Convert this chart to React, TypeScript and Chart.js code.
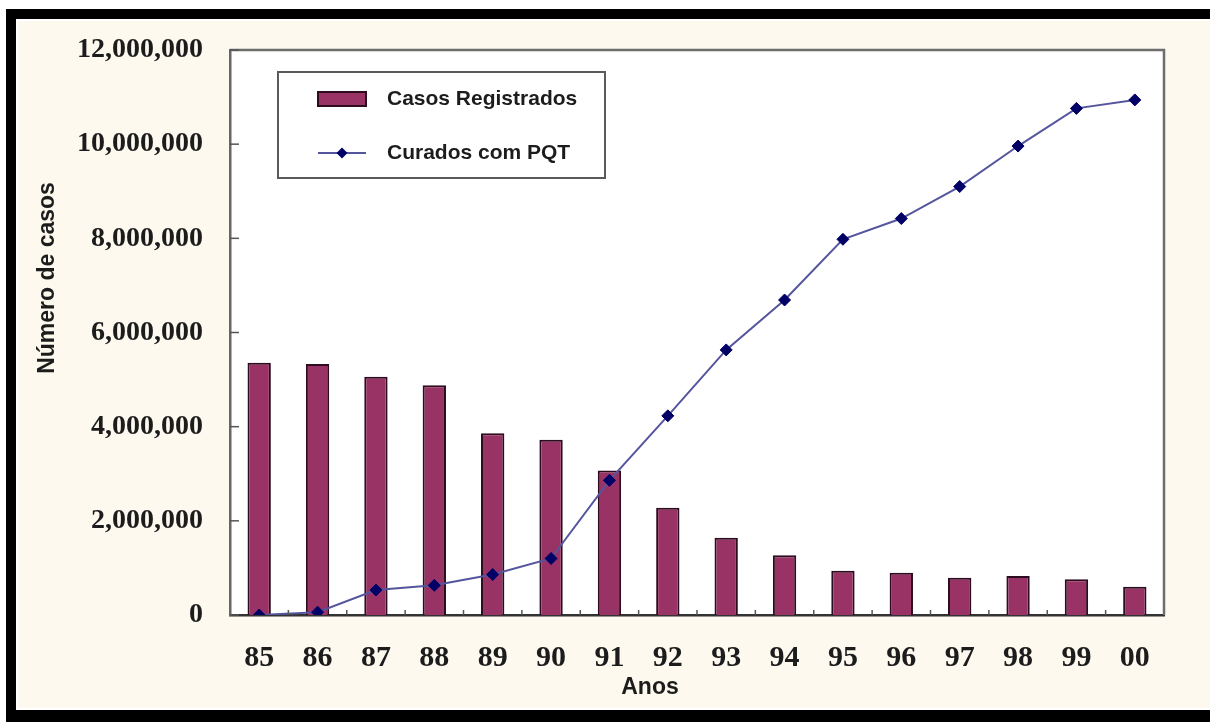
import React, { useEffect, useRef } from "react";
import { Chart, registerables } from "chart.js";

Chart.register(...registerables);

// ---- data ----
const years = ["85", "86", "87", "88", "89", "90", "91", "92", "93", "94", "95", "96", "97", "98", "99", "00"];
const casosRegistrados = [5360000, 5330000, 5060000, 4880000, 3860000, 3720000, 3070000, 2280000, 1640000, 1270000, 940000, 900000, 790000, 830000, 760000, 600000];
const curadosPQT = [0, 60000, 530000, 630000, 860000, 1200000, 2860000, 4230000, 5630000, 6690000, 7980000, 8420000, 9100000, 9960000, 10760000, 10940000];
const yTicks = [0, 2000000, 4000000, 6000000, 8000000, 10000000, 12000000];
const seriesLabels = ["Casos Registrados", "Curados com PQT"];
const xAxisTitle = "Anos";
const yAxisTitle = "Número de casos";

// ---- styles ----
const CREAM = "#fdf9ef";
const BAR_FILL = "#993366";
const BAR_EDGE = "#2e0c20";
const LINE_COLOR = "#55559e";
const MARKER_COLOR = "#000066";
const TEXT = "#1c1c1c";
const W = 1192;
const H = 687;

const decorPlugin = {
  id: "decor",
  beforeDraw(chart: any) {
    const { ctx, chartArea: a } = chart;
    ctx.save();
    ctx.fillStyle = CREAM;
    ctx.fillRect(0, 0, chart.width, chart.height);
    ctx.fillStyle = "#ffffff";
    ctx.fillRect(a.left, a.top, a.right - a.left, a.bottom - a.top);
    ctx.restore();
  },
  afterDraw(chart: any) {
    const { ctx, chartArea: a } = chart;
    const xs = chart.scales.x;
    const ys = chart.scales.y;
    ctx.save();
    // top & right frame of plot
    ctx.strokeStyle = "#6e6e6e";
    ctx.lineWidth = 2.5;
    ctx.beginPath();
    ctx.moveTo(a.left, a.top);
    ctx.lineTo(a.right, a.top);
    ctx.lineTo(a.right, a.bottom);
    ctx.stroke();
    // inward y ticks
    ctx.strokeStyle = "#555555";
    ctx.lineWidth = 1.5;
    yTicks.forEach((v) => {
      const y = ys.getPixelForValue(v);
      ctx.beginPath();
      ctx.moveTo(a.left, y);
      ctx.lineTo(a.left + 9, y);
      ctx.stroke();
    });
    // inward x ticks at category boundaries
    for (let k = 1; k < years.length; k++) {
      const x = xs.getPixelForValue(k - 0.5);
      ctx.beginPath();
      ctx.moveTo(x, a.bottom);
      ctx.lineTo(x, a.bottom - 5);
      ctx.stroke();
    }
    // axis titles
    ctx.fillStyle = TEXT;
    ctx.font = "bold 23px 'Liberation Sans', Arial, sans-serif";
    ctx.textAlign = "center";
    ctx.textBaseline = "middle";
    ctx.fillText(xAxisTitle, 632, 667);
    ctx.save();
    ctx.translate(30, 257);
    ctx.rotate(-Math.PI / 2);
    ctx.fillText(yAxisTitle, 0, 0);
    ctx.restore();
    // legend
    const lx = a.left + 48;
    const ly = a.top + 22;
    const lw = 327;
    const lh = 106;
    ctx.fillStyle = "#ffffff";
    ctx.fillRect(lx, ly, lw, lh);
    ctx.strokeStyle = "#5a5a5a";
    ctx.lineWidth = 2;
    ctx.strokeRect(lx, ly, lw, lh);
    // bar swatch
    ctx.fillStyle = BAR_FILL;
    ctx.fillRect(lx + 40, ly + 20, 48, 14);
    ctx.strokeStyle = BAR_EDGE;
    ctx.lineWidth = 2;
    ctx.strokeRect(lx + 40, ly + 20, 48, 14);
    // line swatch
    const ry = ly + 81;
    ctx.strokeStyle = LINE_COLOR;
    ctx.lineWidth = 2;
    ctx.beginPath();
    ctx.moveTo(lx + 40, ry);
    ctx.lineTo(lx + 88, ry);
    ctx.stroke();
    ctx.fillStyle = MARKER_COLOR;
    ctx.beginPath();
    ctx.moveTo(lx + 64, ry - 5.5);
    ctx.lineTo(lx + 69.5, ry);
    ctx.lineTo(lx + 64, ry + 5.5);
    ctx.lineTo(lx + 58.5, ry);
    ctx.closePath();
    ctx.fill();
    ctx.fillStyle = TEXT;
    ctx.font = "bold 21px 'Liberation Sans', Arial, sans-serif";
    ctx.textAlign = "left";
    ctx.textBaseline = "middle";
    ctx.fillText(seriesLabels[0], lx + 109, ly + 27);
    ctx.fillText(seriesLabels[1], lx + 109, ry);
    ctx.restore();
  },
};

export default function App() {
  const ref = useRef<HTMLCanvasElement | null>(null);

  useEffect(() => {
    if (!ref.current) return;
    const chart = new Chart(ref.current, {
      type: "bar",
      data: {
        labels: years,
        datasets: [
          {
            type: "line",
            label: seriesLabels[1],
            data: curadosPQT,
            borderColor: LINE_COLOR,
            borderWidth: 2,
            backgroundColor: MARKER_COLOR,
            pointStyle: "rectRot",
            pointRadius: 6,
            pointBackgroundColor: MARKER_COLOR,
            pointBorderColor: MARKER_COLOR,
            pointBorderWidth: 1,
            tension: 0,
            order: 0,
          } as any,
          {
            type: "bar",
            label: seriesLabels[0],
            data: casosRegistrados,
            backgroundColor: BAR_FILL,
            borderColor: BAR_EDGE,
            borderWidth: 2,
            barPercentage: 0.4,
            categoryPercentage: 1,
            order: 1,
          } as any,
        ],
      },
      options: {
        responsive: false,
        animation: false,
        devicePixelRatio: 1,
        layout: { padding: { left: 0, right: W - 1146, top: 29, bottom: 0 } },
        plugins: {
          legend: { display: false },
          tooltip: { enabled: false },
          title: { display: false },
        },
        scales: {
          x: {
            offset: true,
            grid: { display: false, drawTicks: false },
            border: { display: true, color: "#333333", width: 2.5 },
            ticks: {
              color: TEXT,
              padding: 25,
              maxRotation: 0,
              autoSkip: false,
              font: { family: "'Liberation Serif', 'Times New Roman', serif", size: 30, weight: "bold" },
            },
            afterFit: (s: any) => {
              s.height = H - 594;
              s.paddingLeft = 0;
              s.paddingRight = 0;
            },
          },
          y: {
            min: 0,
            max: 12000000,
            grid: { display: false, drawTicks: false },
            border: { display: true, color: "#666666", width: 2.5 },
            afterBuildTicks: (s: any) => {
              s.ticks = yTicks.map((v) => ({ value: v }));
            },
            ticks: {
              color: TEXT,
              padding: 27,
              font: { family: "'Liberation Serif', 'Times New Roman', serif", size: 28, weight: "bold" },
              callback: (v: any) => Number(v).toLocaleString("en-US"),
            },
            afterFit: (s: any) => {
              s.width = 212;
              s.paddingTop = 0;
              s.paddingBottom = 0;
            },
          },
        },
      },
      plugins: [decorPlugin],
    });
    return () => chart.destroy();
  }, []);

  return (
    <div style={{ position: "fixed", left: 0, top: 0, width: 1210, height: 722, background: "#ffffff", overflow: "hidden" }}>
      <div
        style={{
          position: "absolute",
          left: 6,
          top: 9,
          width: 1230,
          height: 713,
          boxSizing: "border-box",
          borderLeft: "10px solid #000",
          borderTop: "10px solid #000",
          borderBottom: "12px solid #000",
          background: "#ffffff",
        }}
      >
        <canvas
          ref={ref}
          width={W}
          height={H}
          style={{ position: "absolute", left: 2, top: 2, width: W, height: H }}
        />
      </div>
    </div>
  );
}
